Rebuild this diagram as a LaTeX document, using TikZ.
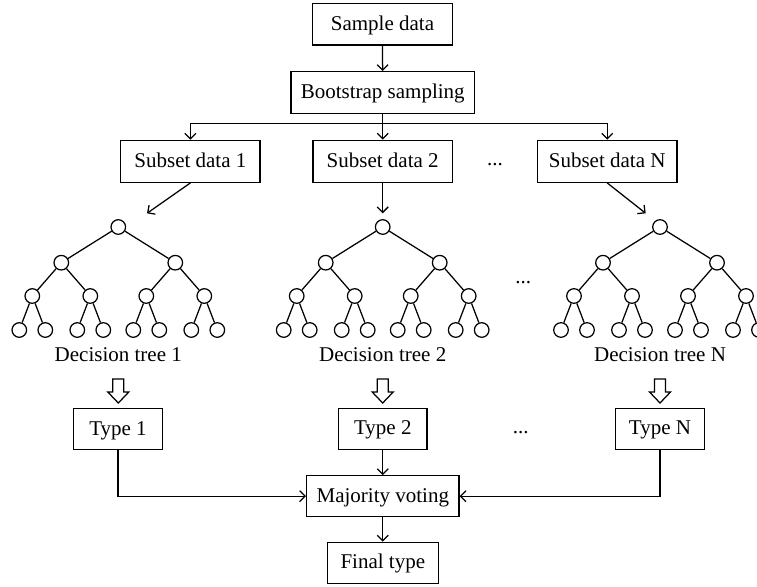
\documentclass[tikz,border=0pt]{standalone}
\usepackage{fontspec}
\setmainfont{Liberation Serif}
\usetikzlibrary{arrows.meta}
\tikzset{
  box/.style={draw, line width=1.25pt, inner sep=0pt, font=\fontsize{21}{24}\selectfont, text height=14pt, text depth=2pt},
  leaf/.style={draw, circle, line width=1.25pt, minimum size=14.6pt, inner sep=0pt},
  lbl/.style={inner sep=0pt, font=\fontsize{21}{24}\selectfont, text height=14pt, text depth=2pt},
  dots/.style={inner sep=0pt, anchor=base, font=\fontsize{21}{24}\selectfont},
  conn/.style={line width=1.25pt},
  arr/.style={conn, -{Straight Barb[length=5.5pt, width=11pt, line width=1.25pt]}},
  hollow/.style={draw, line width=1.25pt, line join=miter}
}
\newcommand\dtree[3]{%
  \node[leaf] (#1a) at (#2,227) {};
  \foreach \i/\dx in {1/-57,2/57}{
    \node[leaf] (#1b\i) at ({#2+\dx},262.7) {};
    \draw[conn] (#1a) -- (#1b\i);
  }
  \foreach \i/\dx/\p in {1/-86/1,2/-28/1,3/28/2,4/86/2}{
    \node[leaf] (#1c\i) at ({#2+\dx},296) {};
    \draw[conn] (#1b\p) -- (#1c\i);
  }
  \foreach \i/\dx/\p in {1/-99/1,2/-73/1,3/-41/2,4/-15/2,5/15/3,6/41/3,7/73/4,8/99/4}{
    \node[leaf] (#1d\i) at ({#2+\dx},330) {};
    \draw[conn] (#1c\p) -- (#1d\i);
  }
  \node[lbl] (#1lab) at (#2,355.5) {#3};
  \draw[hollow] ({#2-5.5},379) -- ({#2-5.5},392) -- ({#2-10.5},392) -- (#2,403)
     -- ({#2+10.5},392) -- ({#2+5.5},392) -- ({#2+5.5},379) -- cycle;
}
\begin{document}
\begin{tikzpicture}[x=1pt,y=-1pt]
\useasboundingbox (0,0) rectangle (757,586);
\clip (0,0) rectangle (757,586);

\node[box, minimum width=139.6pt, minimum height=41.7pt] (sample) at (382.5,24.2) {Sample data};
\node[box, minimum width=183.3pt, minimum height=41.6pt] (boot) at (382.7,92.5) {Bootstrap sampling};
\node[box, minimum width=139.3pt, minimum height=42pt] (sub1) at (190.4,161.3) {Subset data 1};
\node[box, minimum width=139.3pt, minimum height=42pt] (sub2) at (382.7,161.3) {Subset data 2};
\node[box, minimum width=139.7pt, minimum height=42pt] (subN) at (607.2,161.3) {Subset data N};
\node[dots] (d1) at (495,165) {...};

\coordinate (split) at (382.7,123.3);
\draw[arr] (sample) -- (boot);
\draw[conn] (boot) -- (split);
\draw[arr] (split) -| (sub1);
\draw[arr] (split) -- (sub2);
\draw[arr] (split) -| (subN);

\dtree{ta}{118.3}{Decision tree 1}
\dtree{tb}{382.7}{Decision tree 2}
\dtree{tn}{660}{Decision tree N}
\node[dots] (d2) at (523.3,283.5) {...};

\coordinate (in1) at (147,213.3);
\coordinate (in2) at (382.7,213.3);
\coordinate (inN) at (645.7,213.3);
\draw[arr] (sub1.south) -- (in1);
\draw[arr] (sub2.south) -- (in2);
\draw[arr] (subN.south) -- (inN);

\node[box, minimum width=89.3pt, minimum height=41.5pt] (type1) at (118,429) {Type 1};
\node[box, minimum width=88.3pt, minimum height=41pt] (type2) at (382.8,428.8) {Type 2};
\node[box, minimum width=88.6pt, minimum height=41pt] (typeN) at (660,428.8) {Type N};
\node[dots] (d3) at (520.7,433.5) {...};

\node[box, minimum width=152.3pt, minimum height=41pt] (maj) at (382.8,496.2) {Majority voting};
\node[box, minimum width=111pt, minimum height=41pt] (final) at (382.8,562.8) {Final type};

\draw[arr] (type1) |- (maj);
\draw[arr] (type2) -- (maj);
\draw[arr] (typeN) |- (maj);
\draw[arr] (maj) -- (final);
\end{tikzpicture}
\end{document}
